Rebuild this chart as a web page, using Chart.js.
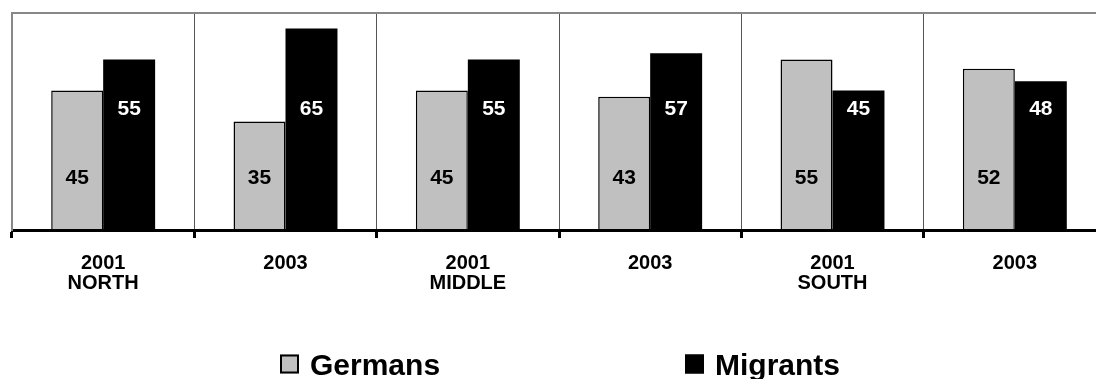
<!DOCTYPE html>
<html>
<head>
<meta charset="utf-8">
<script src="https://cdn.jsdelivr.net/npm/chart.js@4/dist/chart.umd.min.js"></script>
<style>
  html, body { margin: 0; padding: 0; background: #fff; overflow: hidden; }
  #wrap { width: 1108px; height: 379px; }
</style>
</head>
<body>
<div id="wrap"><canvas id="c" width="1108" height="379"></canvas></div>
<script>
// Survey shares (%) by region and year
const categories = [['2001', 'NORTH'], '2003', ['2001', 'MIDDLE'], '2003', ['2001', 'SOUTH'], '2003'];
const seriesNames = ['Germans', 'Migrants'];
const germans = [45, 35, 45, 43, 55, 52];
const migrants = [55, 65, 55, 57, 45, 48];
const yRange = [0, 70];

const FONT = '"Liberation Sans", Arial, Helvetica, sans-serif';

// Value labels written inside each bar at a fixed height on the value scale
const barLabels = {
  id: 'barLabels',
  afterDatasetsDraw(chart, args, opts) {
    const ctx = chart.ctx;
    const yScale = chart.scales.y;
    ctx.save();
    ctx.font = 'bold 21px ' + FONT;
    ctx.textAlign = 'center';
    ctx.textBaseline = 'middle';
    chart.data.datasets.forEach((ds, di) => {
      const meta = chart.getDatasetMeta(di);
      const y = yScale.getPixelForValue(opts.anchor[di]);
      ctx.fillStyle = opts.colors[di];
      meta.data.forEach((bar, i) => {
        ctx.fillText(String(ds.data[i]), bar.x, y + 1);
      });
    });
    ctx.restore();
  }
};

// Legend row with square swatches under the axis labels
const boxLegend = {
  id: 'boxLegend',
  afterDraw(chart, args, opts) {
    const ctx = chart.ctx;
    ctx.save();
    ctx.font = 'bold 30px ' + FONT;
    ctx.textAlign = 'left';
    ctx.textBaseline = 'alphabetic';
    chart.data.datasets.forEach((ds, i) => {
      const x = opts.x[i];
      const top = opts.y - 9.5;
      ctx.fillStyle = ds.backgroundColor;
      ctx.fillRect(x, top, 19, 19);
      ctx.lineWidth = 2;
      ctx.strokeStyle = '#000';
      ctx.strokeRect(x + 1, top + 1, 17, 17);
      ctx.fillStyle = '#000';
      ctx.fillText(ds.label, x + 30, opts.y + 11);
    });
    ctx.restore();
  }
};

new Chart(document.getElementById('c'), {
  type: 'bar',
  data: {
    labels: categories,
    datasets: [
      {
        label: seriesNames[0],
        data: germans,
        backgroundColor: '#C0C0C0',
        borderColor: '#000',
        borderWidth: 1.5,
        categoryPercentage: 0.57,
        barPercentage: 1.0
      },
      {
        label: seriesNames[1],
        data: migrants,
        backgroundColor: '#000000',
        borderColor: '#000',
        borderWidth: 0,
        categoryPercentage: 0.57,
        barPercentage: 1.0
      }
    ]
  },
  options: {
    responsive: false,
    animation: false,
    layout: { padding: { top: 13, left: 12, right: 2, bottom: 0 } },
    plugins: {
      legend: { display: false },
      tooltip: { enabled: false },
      barLabels: { anchor: [17, 39.4], colors: ['#000', '#fff'] },
      boxLegend: { x: [280, 685], y: 364 }
    },
    scales: {
      x: {
        grid: {
          display: true,
          offset: true,
          color: '#555',
          lineWidth: 1,
          drawTicks: true,
          tickLength: 8,
          tickColor: '#000',
          tickWidth: 3
        },
        border: { display: true, color: '#000', width: 3 },
        ticks: {
          color: '#000',
          font: { family: FONT, size: 20, weight: 'bold', lineHeight: 1.0 },
          padding: 15,
          maxRotation: 0,
          autoSkip: false
        },
        afterFit(scale) { scale.height = 149; }
      },
      y: {
        min: yRange[0],
        max: yRange[1],
        ticks: { display: false, stepSize: 10 },
        grid: {
          drawTicks: false,
          lineWidth: 2,
          color: (c) => (c.tick && c.tick.value === yRange[1]) ? '#888' : 'rgba(0,0,0,0)'
        },
        border: { display: true, color: '#888', width: 2 }
      }
    }
  },
  plugins: [barLabels, boxLegend]
});
</script>
</body>
</html>
